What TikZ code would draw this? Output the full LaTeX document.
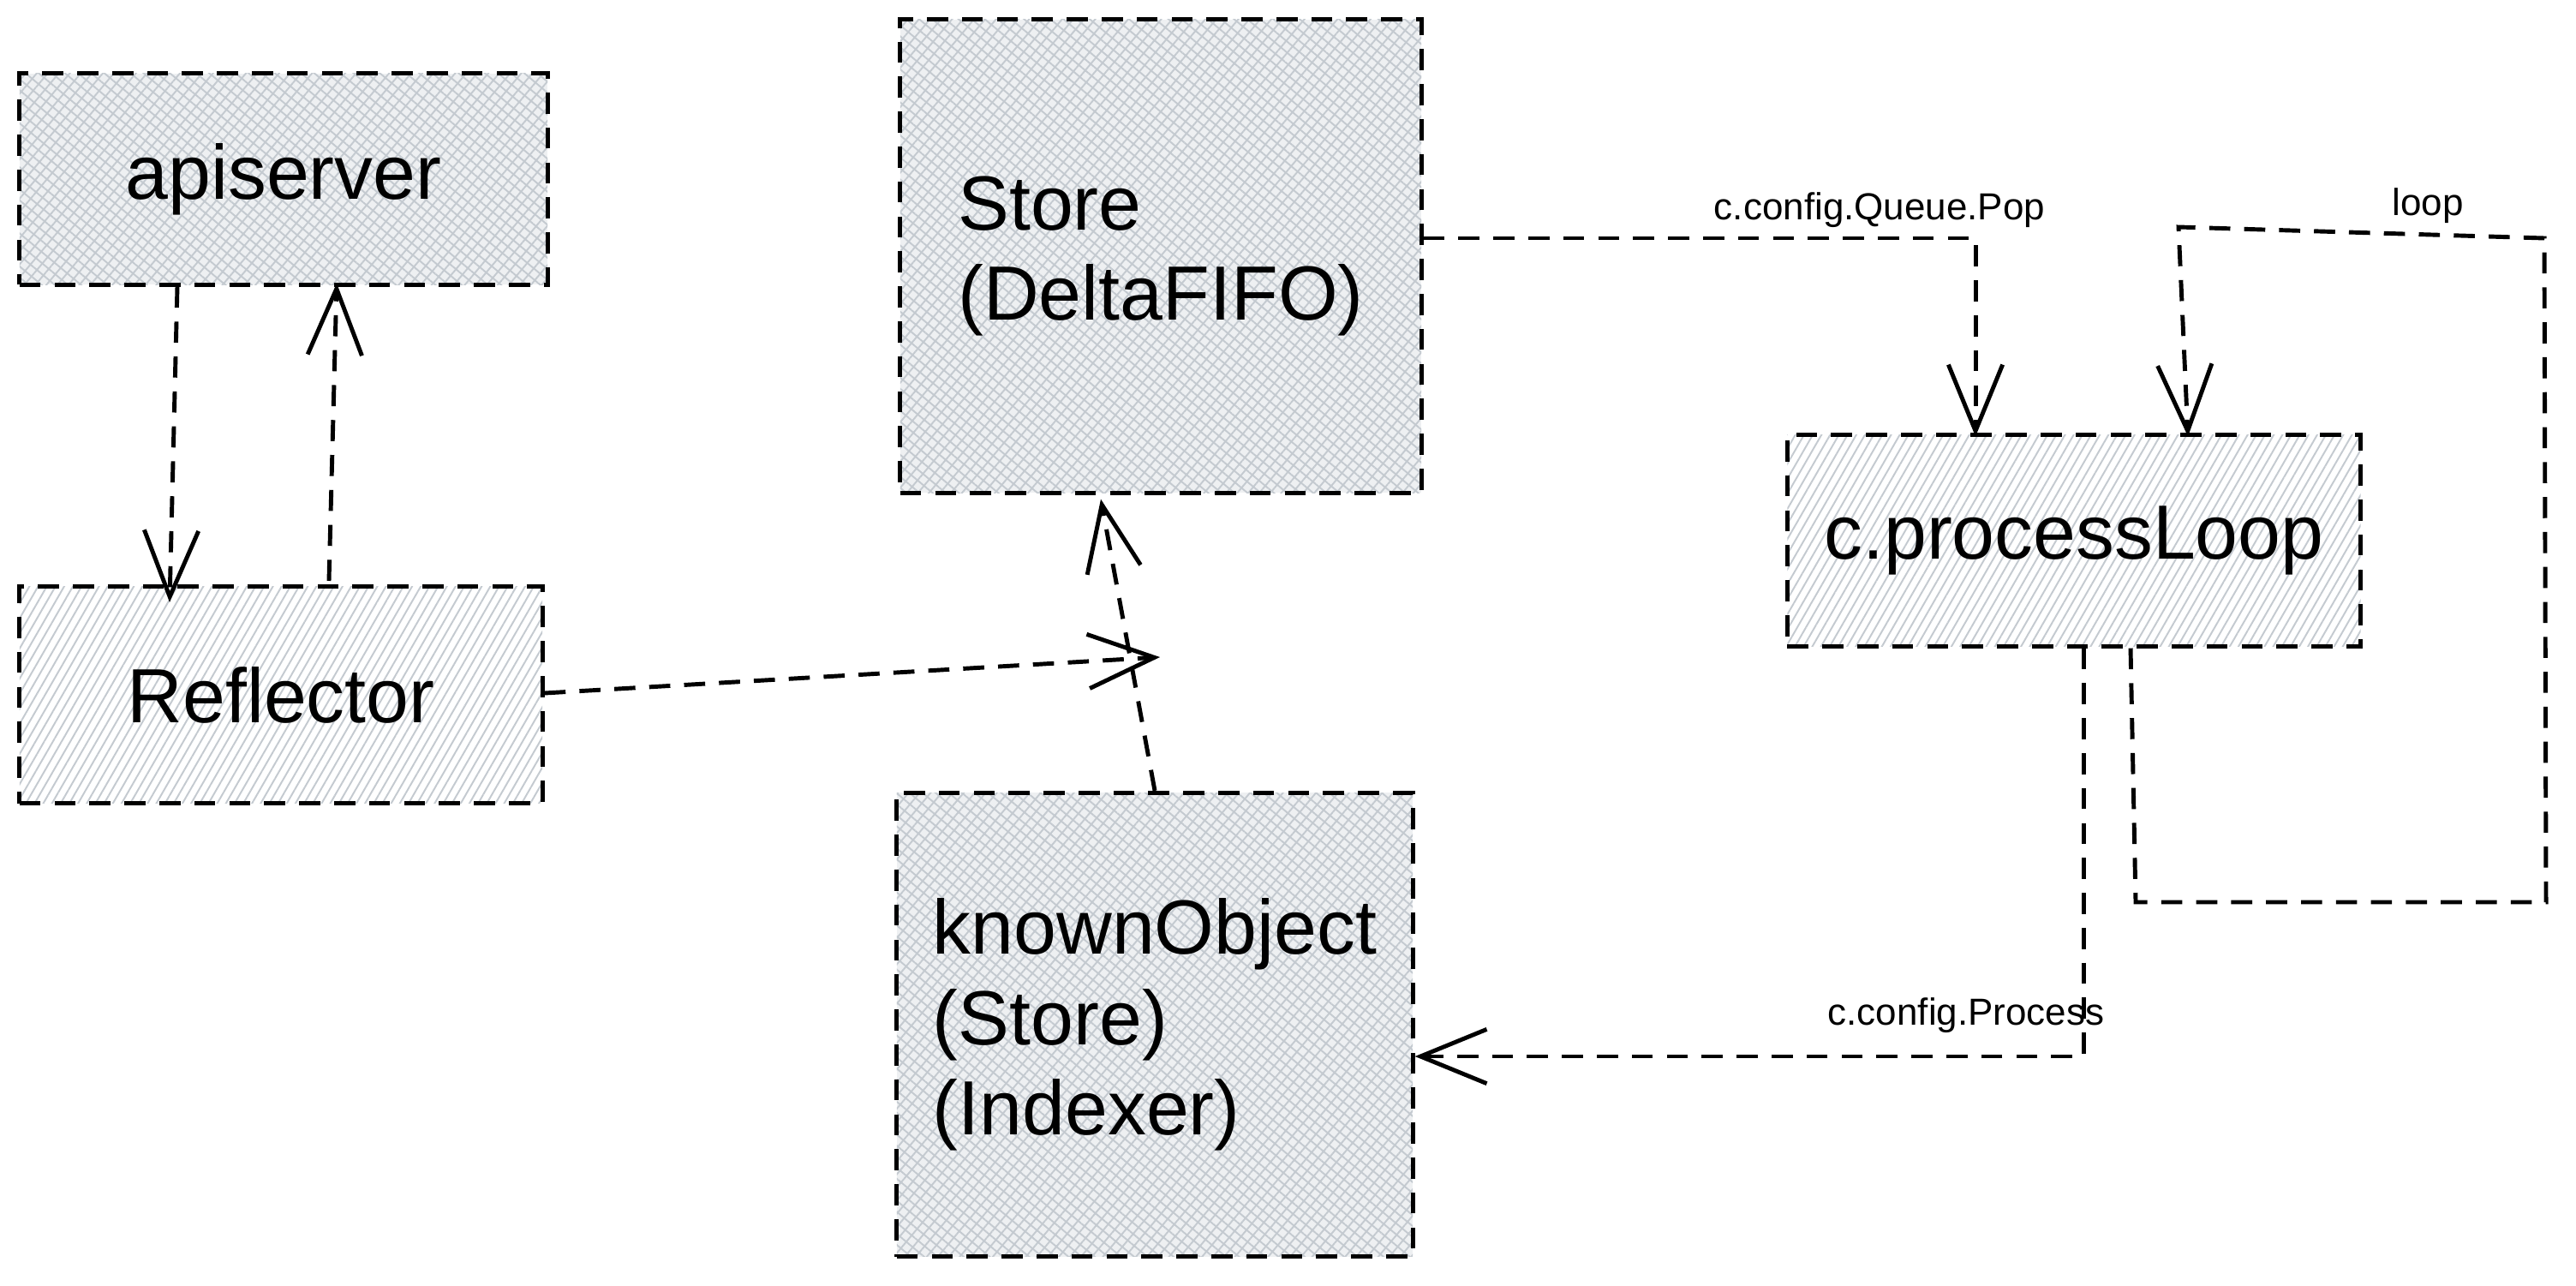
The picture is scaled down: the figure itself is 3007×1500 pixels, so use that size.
\documentclass[tikz,border=0pt]{standalone}
\usepackage{fontspec}
\setmainfont{Liberation Sans}
\usetikzlibrary{arrows.meta,patterns.meta,calc}
\definecolor{hatch}{HTML}{C4CAD0}
\definecolor{bgfill}{HTML}{EEF0F2}
\begin{document}
\begin{tikzpicture}[x=0.01cm,y=-0.01cm,
 box/.style={draw=black, line width=1.4pt, dash pattern=on 7pt off 4.6pt, inner sep=0pt, align=left, font=\fontsize{25.5}{30}\selectfont},
 xhatch/.style={preaction={fill=bgfill}, preaction={pattern={Lines[angle=50,distance=2.8pt,line width=0.55pt]}, pattern color=hatch}, preaction={pattern={Lines[angle=-40,distance=2.8pt,line width=0.55pt]}, pattern color=hatch}},
 shatch/.style={preaction={fill=white}, preaction={pattern={Lines[angle=60,distance=2.5pt,line width=0.55pt]}, pattern color=hatch}},
 conn/.style={line width=1.4pt, dash pattern=on 7pt off 4.6pt},
 tip/.style={-{Straight Barb[length=22pt,width=18pt]}},
 lbl/.style={font=\fontsize{12.5}{15}\selectfont}
]
\useasboundingbox (0,0) rectangle (3007,1500);
\node[box,xhatch,minimum width=6.16cm,minimum height=2.46cm] (api) at (331,209) {apiserver};
\node[box,shatch,minimum width=6.10cm,minimum height=2.53cm] (refl) at (328,811) {Reflector};
\node[box,xhatch,minimum width=6.08cm,minimum height=5.52cm] (store) at (1355,299) {Store\\(DeltaFIFO)};
\node[box,xhatch,minimum width=6.02cm,minimum height=5.41cm] (kno) at (1348,1196) {knownObject\\(Store)\\(Indexer)};
\node[box,shatch,minimum width=6.69cm,minimum height=2.46cm] (pl) at (2421,631) {c.processLoop};

\coordinate (mid) at (1354,767);

\draw[conn,tip] ($(api.south)+(-124,0)$) -- ($(refl.north)+(-130,21)$);
\draw[conn,tip] ($(refl.north)+(56,-4)$) -- ($(api.south)+(62,-4)$);
\draw[conn,tip] ($(refl.east)+(0,-2)$) -- (mid);
\draw[conn,tip] (kno.north) -- ($(store.south)+(-70,5)$);
\draw[conn,tip] ($(store.east)+(0,-21)$) -| ($(pl.north)+(-115,4)$);
\draw[conn,tip] ($(pl.south)+(66,0)$) -- (2493,1053) -- (2972,1053) -- (2970,278) -- (2543,265) -- ($(pl.north)+(133,4)$);
\draw[conn,tip] ($(pl.south)+(11,0)$) |- ($(kno.east)+(0,37)$);

\node[lbl] (lpop) at (2194,245) {c.config.Queue.Pop};
\node[lbl] (lloop) at (2834,240) {loop};
\node[lbl] (lproc) at (2295,1185) {c.config.Process};
\end{tikzpicture}
\end{document}
